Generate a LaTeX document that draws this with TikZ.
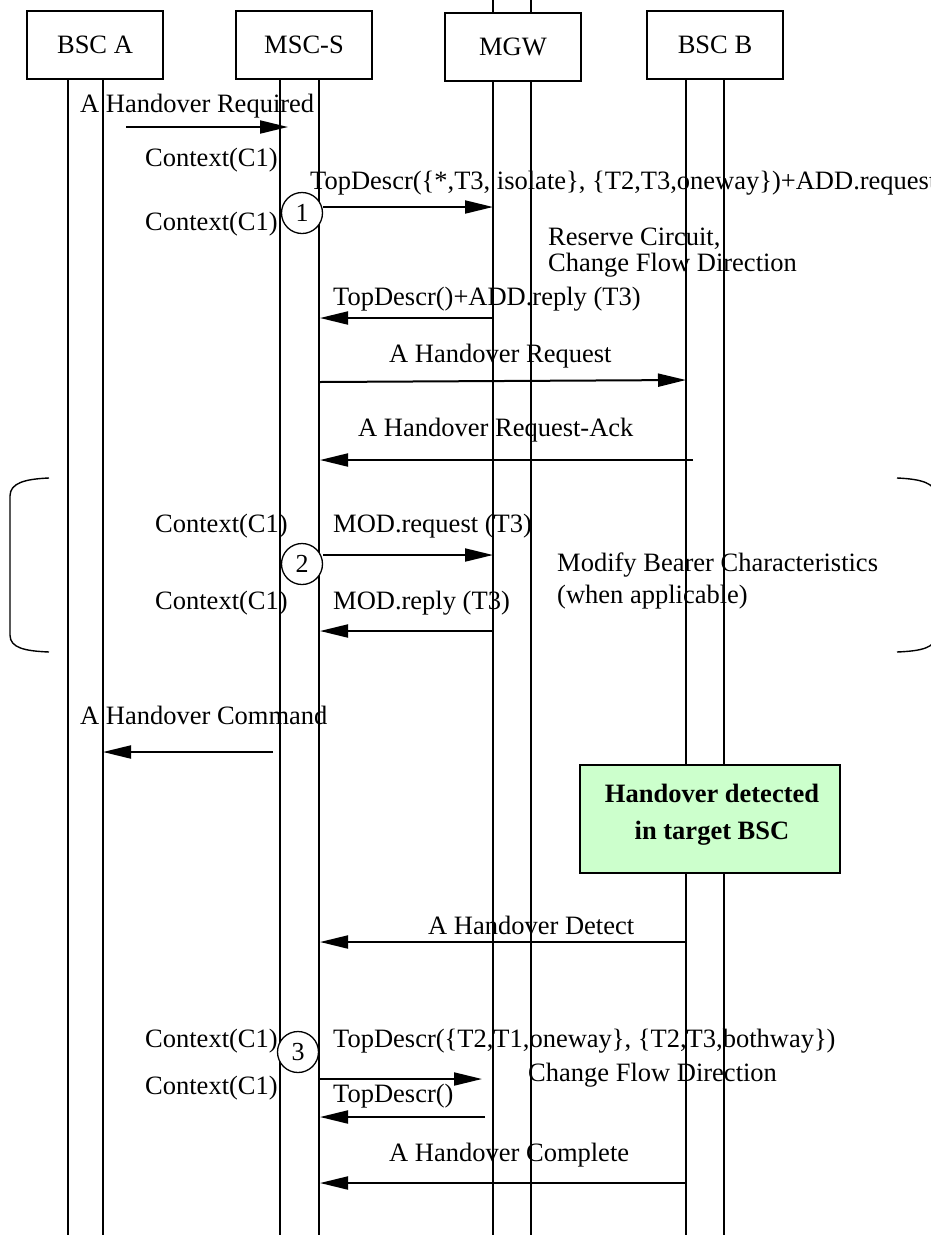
\documentclass[tikz,border=0pt]{standalone}
\usepackage{fontspec}
\setmainfont{Liberation Serif}
\usetikzlibrary{arrows.meta}
\begin{document}
\begin{tikzpicture}[x=1pt,y=-1pt,
  ent/.style={draw, line width=1.3pt, fill=white, minimum width=136pt, minimum height=68pt, inner sep=0pt, font=\fontsize{26.5}{31}\selectfont},
  life/.style={line width=1.3pt},
  msg/.style={line width=2pt, -{Triangle[length=28pt,width=13pt]}},
  lbl/.style={inner sep=0pt, anchor=base west, font=\fontsize{26.5}{31}\selectfont},
  num/.style={circle, draw, line width=1.3pt, fill=white, minimum size=41pt, inner sep=0pt, font=\fontsize{26}{30}\selectfont},
  brace/.style={line width=1.4pt},
  note/.style={draw, line width=1.3pt, fill={rgb,255:red,204;green,255;blue,204}, minimum width=260pt, minimum height=108pt, inner sep=0pt},
  notetext/.style={inner sep=0pt, align=center, font=\fontsize{26.5}{37}\selectfont\bfseries}
]
\useasboundingbox (0,0) rectangle (930,1235);
\fill[white] (0,0) rectangle (930,1235);

% lifeline coordinates
\coordinate (a1t) at (68,79);  \coordinate (a1b) at (68,1235);
\coordinate (a2t) at (103,79); \coordinate (a2b) at (103,1235);
\coordinate (m1t) at (280,79); \coordinate (m1b) at (280,1235);
\coordinate (m2t) at (319,79); \coordinate (m2b) at (319,1235);
\coordinate (g1t) at (493,0);  \coordinate (g1b) at (493,1235);
\coordinate (g2t) at (531,0);  \coordinate (g2b) at (531,1235);
\coordinate (b1t) at (686,79); \coordinate (b1b) at (686,1235);
\coordinate (b2t) at (724,79); \coordinate (b2b) at (724,1235);

\foreach \p in {a1,a2,m1,m2,g1,g2,b1,b2} \draw[life] (\p t) -- (\p b);

% entity boxes
\node[ent] (bsca) at (95,45) {BSC A};
\node[ent] (mscs) at (304,45) {MSC-S};
\node[ent] (mgw) at (513,47) {MGW};
\node[ent] (bscb) at (715,45) {BSC B};

% green note
\node[note] (hd) at (710,819) {};
\node[notetext] (hdt) at (712,815) {Handover detected\\in target BSC};

% --- A Handover Required
\node[lbl] (l1) at (80,112) {A Handover Required};
\coordinate (s1) at (126,127); \coordinate (e1) at (288,127);
\draw[msg] (s1) -- (e1);

% --- Context / TopDescr 1
\node[lbl] (c1) at (145,166) {Context(C1)};
\node[lbl] (t1) at (310,189) {TopDescr(\{*,T3, isolate\}, \{T2,T3,oneway\})+ADD.request};
\node[num] (n1) at (302,213) {1};
\coordinate (e2) at (493,207);
\draw[msg] (n1.east |- e2) -- (e2);
\node[lbl] (c2) at (145,230) {Context(C1)};
\node[lbl] (r1) at (548,245) {Reserve Circuit,};
\node[lbl] (r2) at (548,271) {Change Flow Direction};

% --- ADD.reply
\node[lbl] (t2) at (333,305) {TopDescr()+ADD.reply (T3)};
\coordinate (s3) at (493,318); \coordinate (e3) at (320,318);
\draw[msg] (s3) -- (e3);

% --- A Handover Request
\node[lbl] (l4) at (389,362) {A Handover Request};
\coordinate (s4) at (320,382); \coordinate (e4) at (686,380);
\draw[msg] (s4) -- (e4);

% --- A Handover Request-Ack
\node[lbl] (l5) at (358,436) {A Handover Request-Ack};
\coordinate (s5) at (693,460); \coordinate (e5) at (320,460);
\draw[msg] (s5) -- (e5);

% braces
\coordinate (lbt) at (49,478); \coordinate (lbb) at (49,652);
\draw[brace] (lbt) .. controls (25,479) and (10,483) .. (10,496) -- (10,635) .. controls (10,648) and (25,651) .. (lbb);
\coordinate (rbt) at (897,478); \coordinate (rbb) at (897,652);
\draw[brace] (rbt) .. controls (921,479) and (936,483) .. (936,496) -- (936,635) .. controls (936,648) and (921,651) .. (rbb);

% --- MOD.request
\node[lbl] (c3) at (155,532) {Context(C1)};
\node[lbl] (t3) at (333,532) {MOD.request (T3)};
\node[num] (n2) at (302,564) {2};
\coordinate (e6) at (493,555);
\draw[msg] (n2.east |- e6) -- (e6);
\node[lbl] (mb1) at (557,571) {Modify Bearer Characteristics};
\node[lbl] (mb2) at (557,603) {(when applicable)};

% --- MOD.reply
\node[lbl] (c4) at (155,609) {Context(C1)};
\node[lbl] (t4) at (333,609) {MOD.reply (T3)};
\coordinate (s7) at (493,631); \coordinate (e7) at (320,631);
\draw[msg] (s7) -- (e7);

% --- A Handover Command
\node[lbl] (l8) at (80,724) {A Handover Command};
\coordinate (s8) at (273,752); \coordinate (e8) at (103,752);
\draw[msg] (s8) -- (e8);

% --- A Handover Detect
\node[lbl] (l9) at (428,934) {A Handover Detect};
\coordinate (s9) at (686,942); \coordinate (e9) at (320,942);
\draw[msg] (s9) -- (e9);

% --- TopDescr 3
\node[lbl] (c5) at (145,1047) {Context(C1)};
\node[lbl] (t5) at (333,1047) {TopDescr(\{T2,T1,oneway\}, \{T2,T3,bothway\})};
\node[num] (n3) at (298,1052) {3};
\coordinate (s10) at (318,1079); \coordinate (e10) at (482,1079);
\draw[msg] (s10) -- (e10);
\node[lbl] (cf2) at (528,1081) {Change Flow Direction};

% --- TopDescr()
\node[lbl] (c6) at (145,1094) {Context(C1)};
\node[lbl] (t6) at (333,1102) {TopDescr()};
\coordinate (s11) at (485,1117); \coordinate (e11) at (320,1117);
\draw[msg] (s11) -- (e11);

% --- A Handover Complete
\node[lbl] (l12) at (389,1161) {A Handover Complete};
\coordinate (s12) at (686,1183); \coordinate (e12) at (320,1183);
\draw[msg] (s12) -- (e12);
\end{tikzpicture}
\end{document}
